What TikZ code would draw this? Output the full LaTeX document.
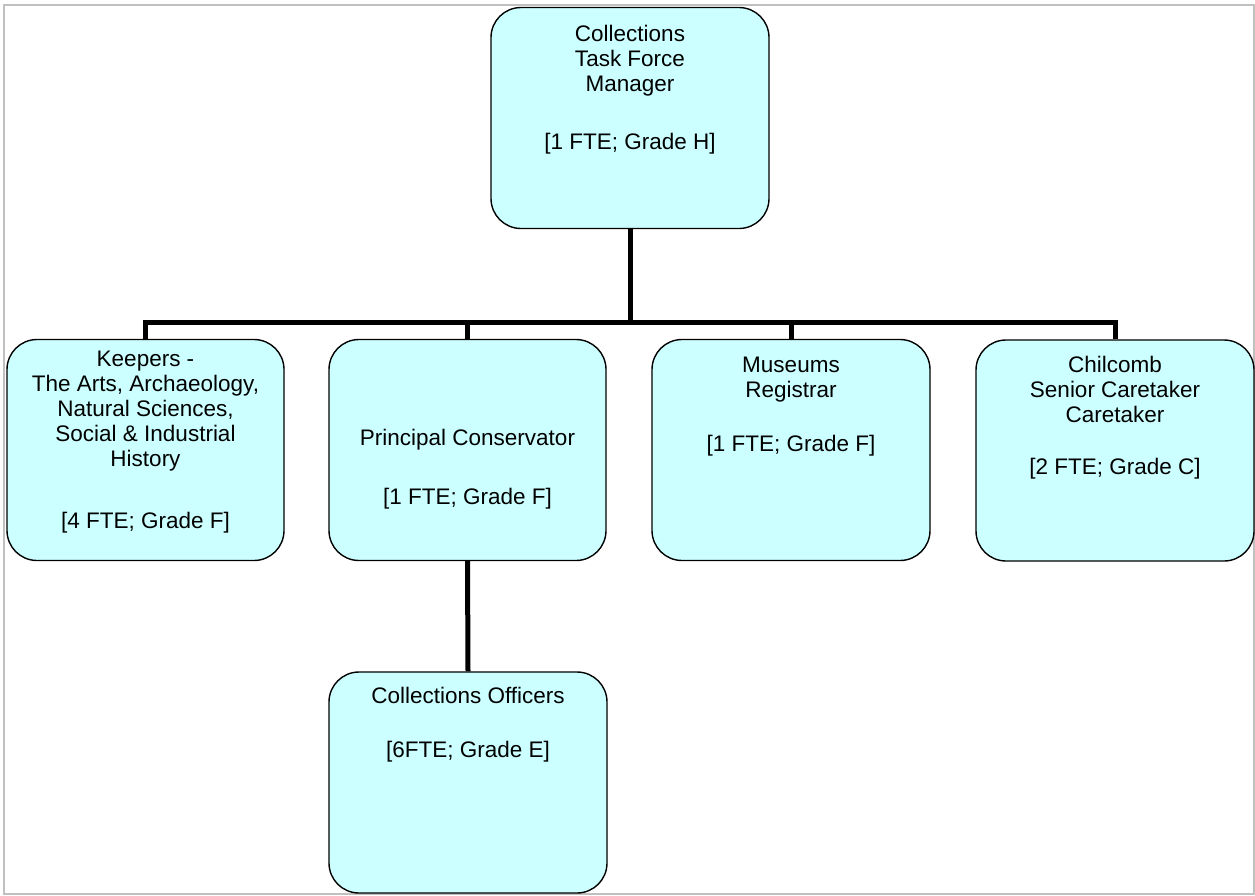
\documentclass[tikz,border=0pt]{standalone}
\usepackage{fontspec}
\setmainfont{Liberation Sans}
\usetikzlibrary{positioning}
\definecolor{boxfill}{HTML}{CCFFFF}
\definecolor{framegray}{HTML}{C0C0C0}
\begin{document}
\begin{tikzpicture}[x=1pt,y=-1pt,
	orgbox/.style={draw,fill=boxfill,line width=1.4pt,rounded corners=30pt,minimum width=277pt,minimum height=221pt,inner sep=0pt},
	orgtext/.style={anchor=north,align=center,inner sep=0pt,font=\fontsize{22.5}{25}\selectfont},
	orgline/.style={line width=5pt}]
	\useasboundingbox (0,0) rectangle (1255,895);
	\draw[framegray,line width=1.5pt] (4,5) rectangle (1254,894);
	
	% boxes
	\node[orgbox,minimum width=278pt] (mgr) at (630,118) {};
	\node[orgbox] (keep) at (145.5,450) {};
	\node[orgbox] (cons) at (467.5,450) {};
	\node[orgbox,minimum width=278pt] (reg) at (791,450) {};
	\node[orgbox,minimum width=278pt] (care) at (1115,450.5) {};
	\node[orgbox,minimum width=278pt] (off) at (468,782.5) {};
	
	% texts
	\node[orgtext] (mgrtxt) at ([yshift=-18pt]mgr.north) {Collections\\Task Force\\Manager\\[33pt]{[1 FTE; Grade H]}};
	\node[orgtext] (keeptxt) at ([yshift=-12pt]keep.north) {Keepers -\\The Arts, Archaeology,\\Natural Sciences,\\Social \& Industrial\\History\\[37pt]{[4 FTE; Grade F]}};
	\node[orgtext] (constxt) at ([yshift=-90pt]cons.north) {Principal Conservator\\[34pt]{[1 FTE; Grade F]}};
	\node[orgtext] (regtxt) at ([yshift=-18pt]reg.north) {Museums\\Registrar\\[29pt]{[1 FTE; Grade F]}};
	\node[orgtext] (caretxt) at ([yshift=-17pt]care.north) {Chilcomb\\Senior Caretaker\\Caretaker\\[27pt]{[2 FTE; Grade C]}};
	\node[orgtext] (offtxt) at ([yshift=-16pt]off.north) {Collections Officers\\[29pt]{[6FTE; Grade E]}};
	
	% connectors
	\coordinate (bus) at (630,322);
	\draw[orgline] (mgr.south) -- (bus);
	\draw[orgline] (bus) -| (keep.north);
	\draw[orgline] (bus) -| (cons.north);
	\draw[orgline] (bus) -| (reg.north);
	\draw[orgline] (bus) -| (care.north);
	\draw[orgline] (cons.south) -- (off.north);
\end{tikzpicture}
\end{document}
